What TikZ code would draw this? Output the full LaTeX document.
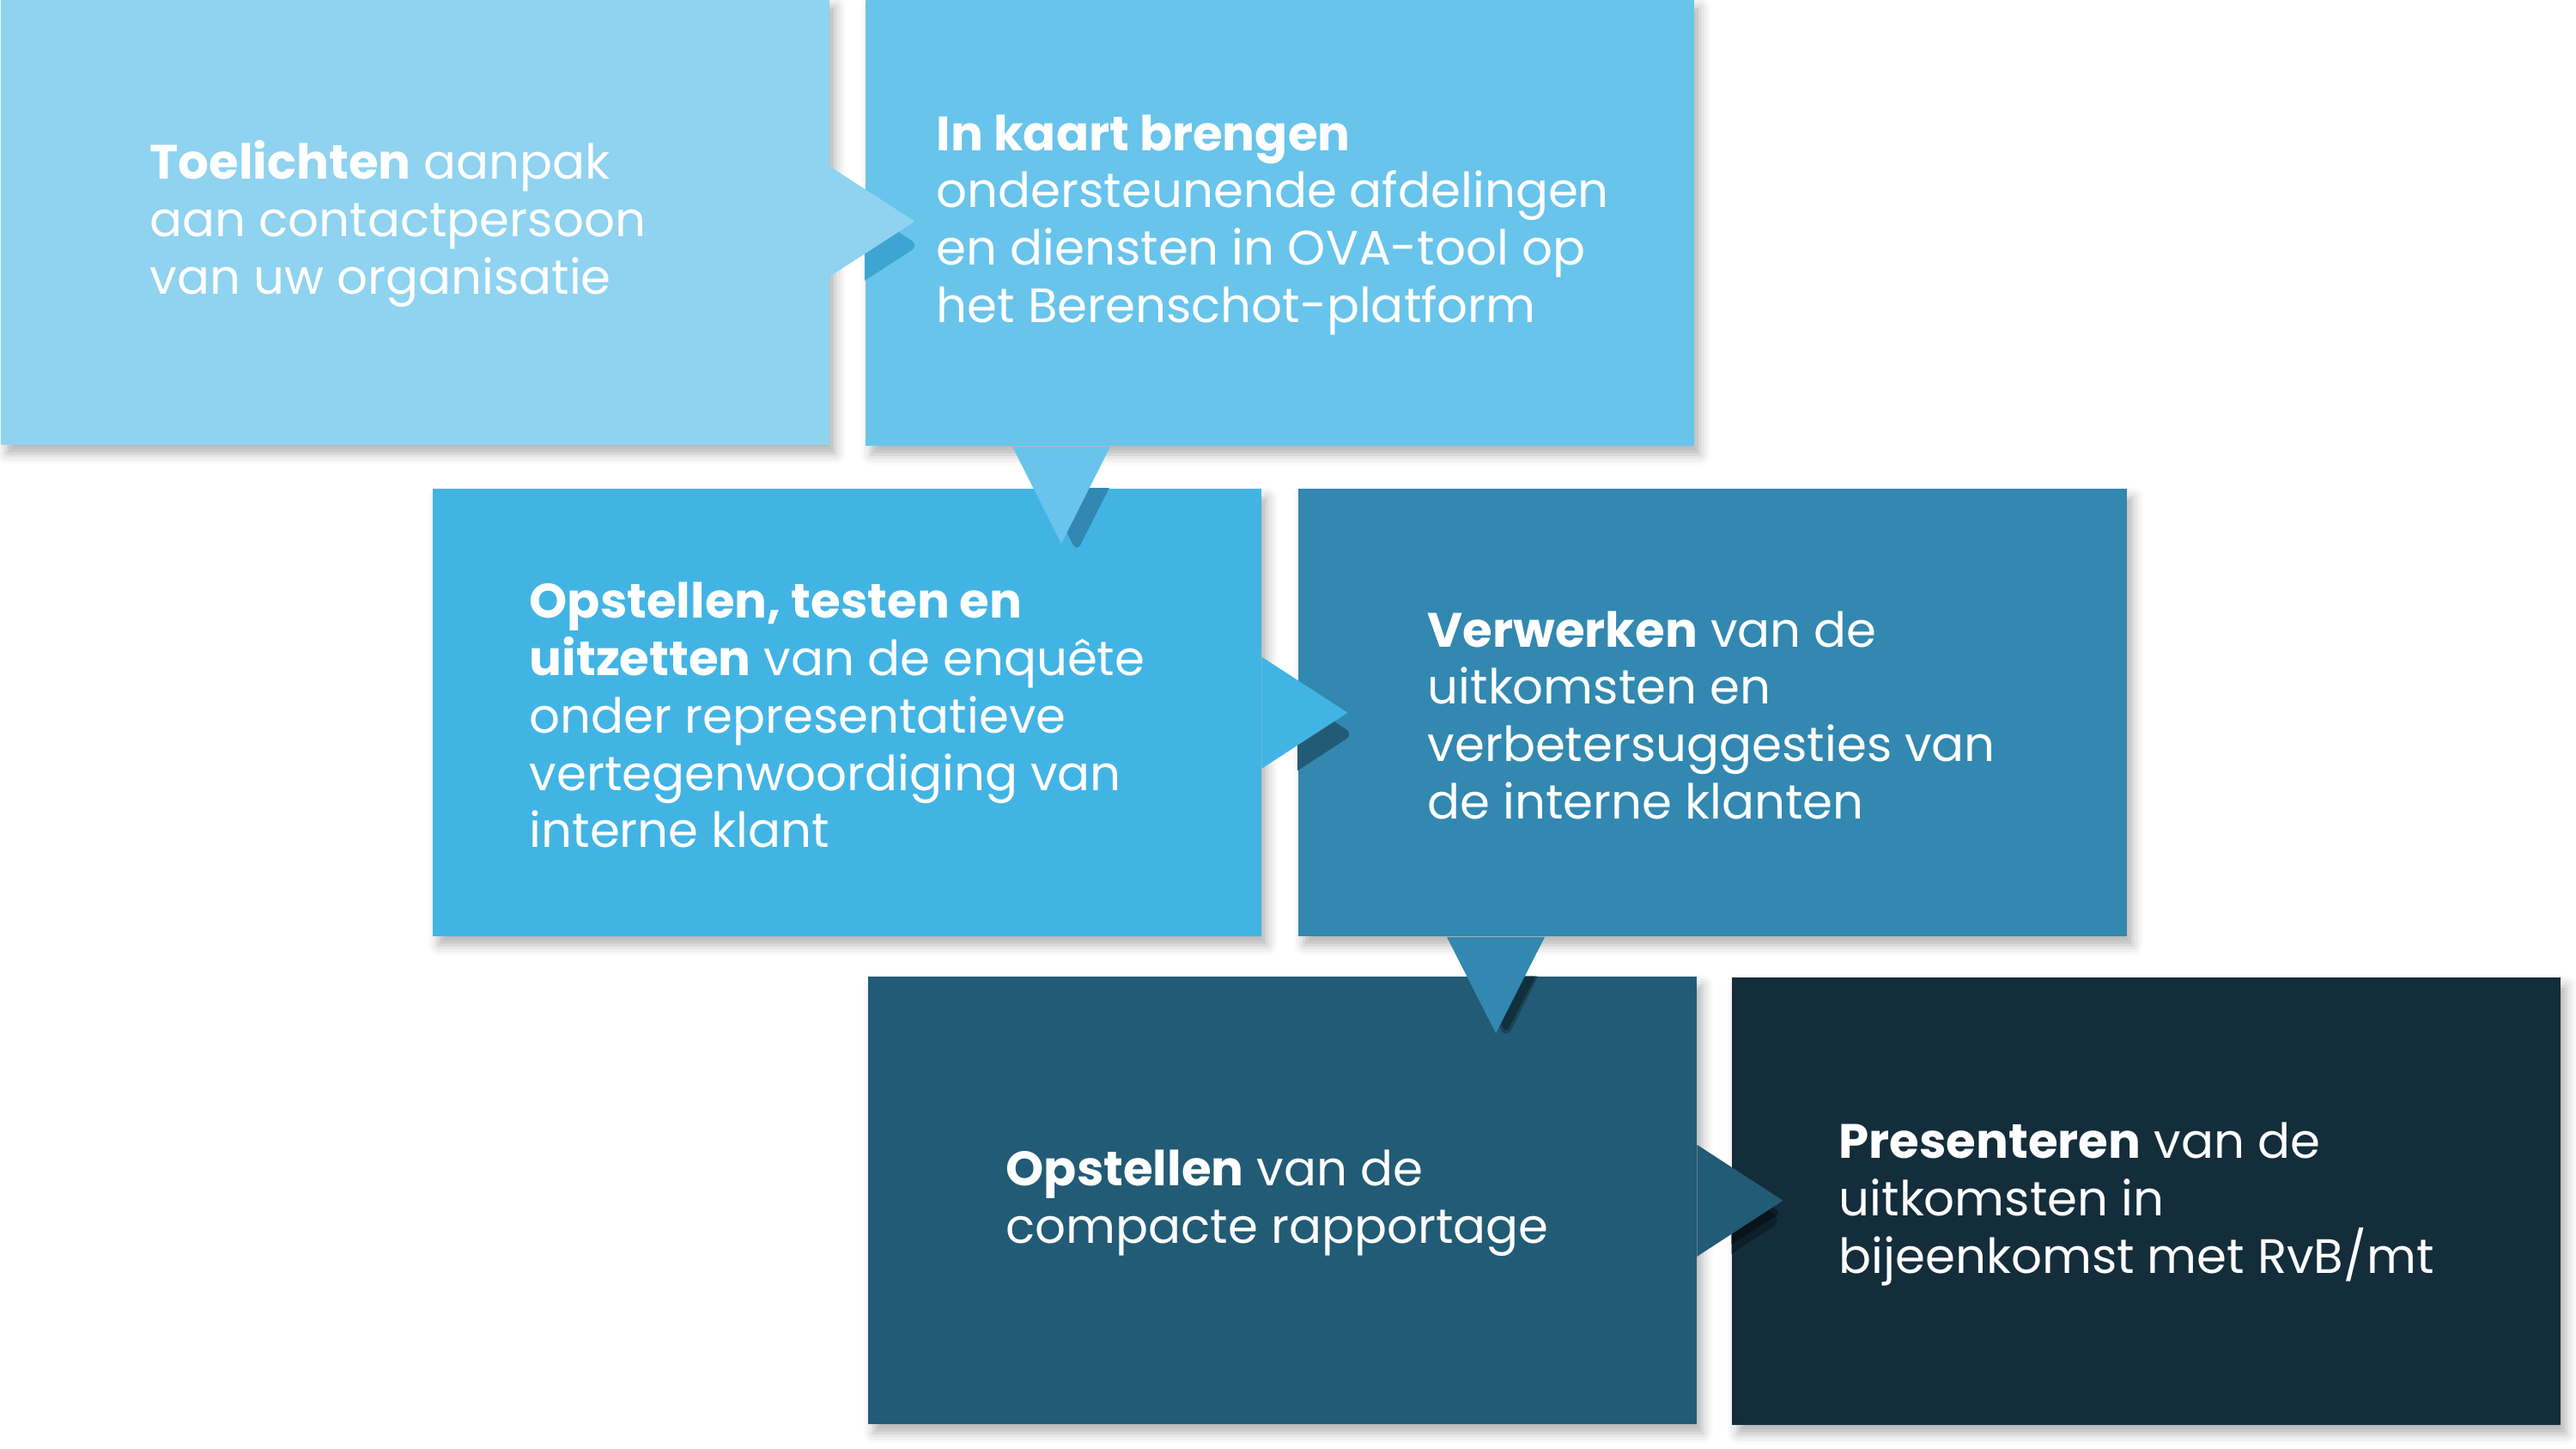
\documentclass[tikz,border=0pt]{standalone}
\usepackage{fontspec}
\setmainfont{Poppins}
\usepackage{tikz}
\usetikzlibrary{calc,shadows.blur}
\definecolor{stepa}{HTML}{8FD3F0}
\definecolor{stepb}{HTML}{68C4EB}
\definecolor{stepc}{HTML}{42B4E4}
\definecolor{stepd}{HTML}{3288B0}
\definecolor{stepe}{HTML}{225B75}
\definecolor{stepf}{HTML}{142D3B}
\tikzset{
  stepbox/.style={rectangle, inner sep=0pt, anchor=south west,
    minimum width=9.65cm, minimum height=5.21cm,
    blur shadow={shadow xshift=0.07cm, shadow yshift=-0.1cm, shadow blur radius=0.12cm, shadow opacity=30}},
  steptext/.style={anchor=west, inner sep=0pt, text=white, align=left,
    font=\fontsize{16}{19}\selectfont}
}

\begin{document}
\begin{tikzpicture}
\useasboundingbox (0,0) rectangle (30,16.86);
% boxes
\node[stepbox, fill=stepa] (toelichten) at (0,11.67) {};
\node[stepbox, fill=stepb] (inkaart) at (10.07,11.66) {};
\node[stepbox, fill=stepc] (opstellen) at (5.03,5.95) {};
\node[stepbox, fill=stepd] (verwerken) at (15.11,5.95) {};
\node[stepbox, fill=stepe] (rapport) at (10.10,0.27) {};
\node[stepbox, fill=stepf] (presenteren) at (20.16,0.26) {};

% folded shadows of the pointers
\begin{scope}
\clip (inkaart.south west) rectangle (inkaart.north east);
\fill[stepc!65!stepd, rounded corners=3pt] ($(toelichten.east)+(0.05,0.36)$) -- ++(0.99,-0.64) -- ++(-0.99,-0.64) -- cycle;
\end{scope}
\begin{scope}
\clip (opstellen.south west) rectangle (opstellen.north east);
\fill[stepd, rounded corners=3pt] ($(inkaart.south west)+(1.90,-0.10)$) -- ++(0.57,-1.13) -- ++(0.57,1.13) -- cycle;
\end{scope}
\begin{scope}
\clip (verwerken.south west) rectangle (verwerken.north east);
\fill[stepe, rounded corners=3pt] ($(opstellen.east)+(0.07,0.40)$) -- ++(1.00,-0.65) -- ++(-1.00,-0.65) -- cycle;
\end{scope}
\begin{scope}
\clip (rapport.south west) rectangle (rapport.north east);
\fill[black, opacity=0.25, rounded corners=4pt] ($(verwerken.south west)+(1.86,-0.06)$) -- ++(0.57,-1.14) -- ++(0.57,1.14) -- cycle;
\fill[black, opacity=0.3, rounded corners=2pt] ($(verwerken.south west)+(1.86,-0.02)$) -- ++(0.57,-1.10) -- ++(0.57,1.10) -- cycle;
\end{scope}
\begin{scope}
\clip (presenteren.south west) rectangle (presenteren.north east);
\fill[black, opacity=0.3, rounded corners=4pt] ($(rapport.east)+(0,0.42)$) -- ++(1.00,-0.65) -- ++(-1.00,-0.65) -- cycle;
\fill[black, opacity=0.35, rounded corners=2pt] ($(rapport.east)+(0,0.48)$) -- ++(0.98,-0.62) -- ++(-0.98,-0.62) -- cycle;
\end{scope}

% pointers
\fill[stepa] ($(toelichten.east)+(0,0.64)$) -- ($(toelichten.east)+(0.99,0)$) -- ($(toelichten.east)+(0,-0.64)$) -- cycle;
\fill[stepb] ($(inkaart.south west)+(1.72,0)$) -- ($(inkaart.south west)+(2.29,-1.13)$) -- ($(inkaart.south west)+(2.86,0)$) -- cycle;
\fill[stepc] ($(opstellen.east)+(0,0.65)$) -- ($(opstellen.east)+(1.00,0)$) -- ($(opstellen.east)+(0,-0.65)$) -- cycle;
\fill[stepd] ($(verwerken.south west)+(1.74,0)$) -- ($(verwerken.south west)+(2.31,-1.12)$) -- ($(verwerken.south west)+(2.88,0)$) -- cycle;
\fill[stepe] ($(rapport.east)+(0,0.65)$) -- ($(rapport.east)+(1.00,0)$) -- ($(rapport.east)+(0,-0.65)$) -- cycle;

% texts
\node[steptext] (ttoelichten) at ($(toelichten.west)+(1.74,-0.03)$) {\textbf{Toelichten} aanpak\\aan contactpersoon\\van uw organisatie};
\node[steptext] (tinkaart) at ($(inkaart.west)+(0.83,-0.03)$) {\textbf{In kaart brengen}\\ondersteunende afdelingen\\en diensten in OVA-tool op\\het Berenschot-platform};
\node[steptext] (topstellen) at ($(opstellen.west)+(1.13,-0.03)$) {\textbf{Opstellen, testen en}\\\textbf{uitzetten} van de enquête\\onder representatieve\\vertegenwoordiging van\\interne klant};
\node[steptext] (tverwerken) at ($(verwerken.west)+(1.51,-0.03)$) {\textbf{Verwerken} van de\\uitkomsten en\\verbetersuggesties van\\de interne klanten};
\node[steptext] (trapport) at ($(rapport.west)+(1.61,-0.03)$) {\textbf{Opstellen} van de\\compacte rapportage};
\node[steptext] (tpresenteren) at ($(presenteren.west)+(1.25,-0.03)$) {\textbf{Presenteren} van de\\uitkomsten in\\bijeenkomst met RvB/mt};
\end{tikzpicture}
\end{document}
